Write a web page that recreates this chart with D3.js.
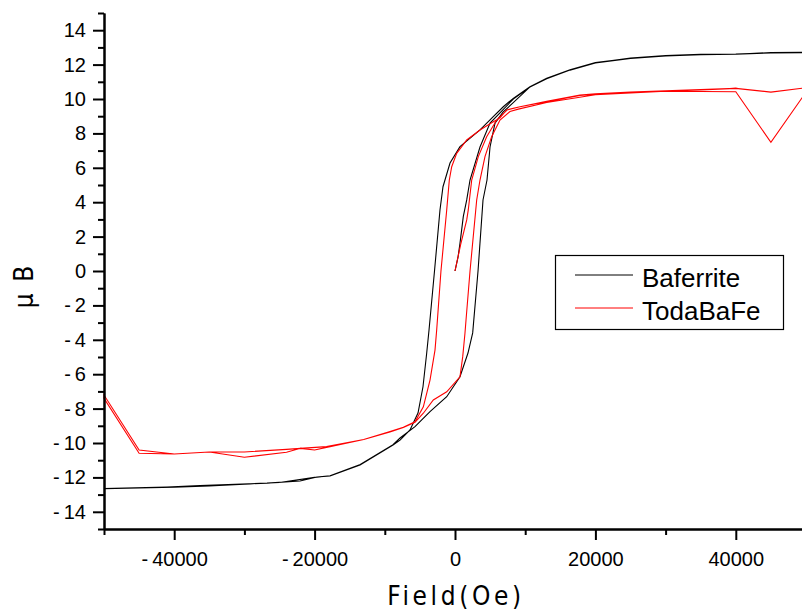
<!DOCTYPE html>
<html><head><meta charset="utf-8">
<script src="https://cdn.jsdelivr.net/npm/d3@7"></script>
<style>
html,body{margin:0;padding:0;background:#fff;}
svg{display:block;}
.narrow{font-family:"Liberation Sans Narrow","DejaVu Sans Condensed","Arial Narrow",sans-serif;font-stretch:condensed;}
</style></head>
<body>
<svg id="chart" width="802" height="616"></svg>
<script>
// ---- data ----
const seriesNames = ["Baferrite", "TodaBaFe"];
const seriesColors = ["#000000", "#ff0000"];

const bafField = [
  0,430,710,1180,1670,2140,3560,4990,6410,8300,10680,13060,16380,20000,25000,30000,35000,40000,45000,50000,
  45000,40000,35000,30000,25000,20000,16380,13060,10680,8300,6880,5450,3560,710,-710,-1710,-2140,-2920,-3700,-4030,-4560,-5270,-6410,-7830,-8830,-13530,-17800,-19660,-22080,-26780,-36320,-41030,-50000,
  -40000,-35000,-30000,-25000,-20000,-17800,-13500,-8830,-7830,-5700,-3560,-1180,710,1850,2520,3280,3990,4560,4990,5700,6840,8260,10680,13060,16380,20000,25000,30000,35000,40000,45000,50000
];
const bafMoment = [
  0,0.8,1.61,3.16,4.13,5.29,7.21,8.6,9.19,10.0,10.7,11.2,11.69,12.11,12.38,12.53,12.6,12.62,12.69,12.72,
  12.7,12.6,12.6,12.52,12.37,12.12,11.7,11.2,10.72,10.04,9.55,8.97,8.2,7.23,6.28,4.9,3.55,0,-3.43,-4.77,-6.73,-8.26,-9.24,-9.83,-10.12,-11.28,-11.92,-11.98,-12.21,-12.33,-12.48,-12.56,-12.65,
  -12.57,-12.5,-12.4,-12.3,-12.0,-11.9,-11.25,-10.1,-9.71,-9.05,-8.18,-7.31,-6.15,-4.77,-3.6,0,4.13,5.29,7.21,8.6,9.24,9.77,10.7,11.18,11.68,12.1,12.36,12.5,12.58,12.6,12.68,12.7
];

const todaField = [
  0,810,1670,1890,2380,3320,4510,5940,7410,9260,13060,17800,20000,25000,30000,35000,40000,45000,50000,
  45000,40000,35000,30000,25000,20000,17800,13060,9260,8300,7360,6410,5460,3560,1670,240,-470,-810,-1180,-2000,-2610,-2850,-3560,-4510,-5700,-7360,-9260,-13000,-17800,-20000,-22000,-24000,-30000,-35000,-40000,-45000,-50000,
  -50000,-45000,-40000,-35000,-30000,-24000,-22000,-18300,-13000,-9260,-7360,-5700,-4510,-3090,-1180,710,1100,1420,1570,2140,3090,3560,4270,5220,6410,7830,9020,13060,20000,30000,40000,45000,50000
];
const todaMoment = [
  0,1.55,2.97,3.55,5.29,6.65,7.81,8.78,9.36,9.55,9.84,10.2,10.28,10.38,10.45,10.52,10.62,10.4,10.65,
  10.4,10.62,10.55,10.47,10.4,10.3,10.23,9.86,9.55,9.46,9.36,8.9,8.68,8.2,7.62,6.84,6.06,5.29,3.55,0,-3.43,-4.6,-6.34,-7.9,-8.77,-9.09,-9.34,-9.8,-10.21,-10.41,-10.31,-10.54,-10.83,-10.52,-10.64,-10.41,-7.21,
  -7.4,-10.6,-10.64,-10.52,-10.52,-10.37,-10.31,-10.21,-9.8,-9.36,-9.1,-8.8,-8.27,-7.5,-7.02,-6.15,-4.98,-3.62,-2.85,0,4.13,5.29,6.65,7.81,8.78,9.27,9.41,9.8,10.25,10.45,10.42,7.48,10.4
];

const xMajorTicks = [-40000,-20000,0,20000,40000];
const xMinorTicks = [-50000,-30000,-10000,10000,30000,50000];
const yMajorTicks = [-14,-12,-10,-8,-6,-4,-2,0,2,4,6,8,10,12,14];
const yMinorTicks = [-15,-13,-11,-9,-7,-5,-3,-1,1,3,5,7,9,11,13,15];
const xTitle = "Field(Oe)";
const yTitle = "\u03bc B";

// ---- chart ----
const svg = d3.select("#chart");
const x = d3.scaleLinear().domain([-50000, 50000]).range([104, 806]);
const y = d3.scaleLinear().domain([-15, 15]).range([529, 13]);

const fmt = d => d < 0 ? "-\u2009" + Math.abs(d) : String(d);

// lines
const line = d3.line().x(d => x(d[0])).y(d => y(d[1]));
const series = [
  d3.zip(bafField, bafMoment),
  d3.zip(todaField, todaMoment)
];
series.forEach((s, i) => {
  svg.append("path").datum(s).attr("d", line)
    .attr("fill", "none").attr("stroke", seriesColors[i])
    .attr("stroke-width", 1.1).attr("stroke-linejoin", "miter");
});

// axes
function styleAxis(g) {
  g.select(".domain").attr("stroke", "#000").attr("stroke-width", 2);
  g.selectAll(".tick line").attr("stroke", "#000").attr("stroke-width", 2);
}
const gxMinor = svg.append("g").attr("transform", "translate(0,529)")
  .call(d3.axisBottom(x).tickValues(xMinorTicks).tickSize(6).tickSizeOuter(0).tickFormat(""));
styleAxis(gxMinor);
const gxMajor = svg.append("g").attr("transform", "translate(0,529)")
  .call(d3.axisBottom(x).tickValues(xMajorTicks).tickSize(11).tickSizeOuter(0).tickPadding(12).tickFormat(fmt));
styleAxis(gxMajor);
gxMajor.selectAll("text").attr("font-family", "Liberation Sans, Arial, sans-serif")
  .attr("font-size", 20).attr("fill", "#000");

const gyMinor = svg.append("g").attr("transform", "translate(104,0)")
  .call(d3.axisLeft(y).tickValues(yMinorTicks).tickSize(6).tickSizeOuter(0).tickFormat(""));
styleAxis(gyMinor);
const gyMajor = svg.append("g").attr("transform", "translate(104,0)")
  .call(d3.axisLeft(y).tickValues(yMajorTicks).tickSize(11).tickSizeOuter(0).tickPadding(7).tickFormat(fmt));
styleAxis(gyMajor);
gyMajor.selectAll("text").attr("font-family", "Liberation Sans, Arial, sans-serif")
  .attr("font-size", 20).attr("fill", "#000");

// titles
svg.append("text").attr("class", "narrow")
  .attr("x", 456).attr("y", 605).attr("text-anchor", "middle")
  .attr("font-size", 26).attr("letter-spacing", "3.6px").attr("fill", "#000")
  .text(xTitle);
svg.append("text").attr("class", "narrow")
  .attr("transform", "translate(33,286) rotate(-90)").attr("text-anchor", "middle")
  .attr("font-size", 26).attr("letter-spacing", "2px").attr("fill", "#000")
  .text(yTitle);

// legend
const lg = svg.append("g");
lg.append("rect").attr("x", 555.5).attr("y", 255.5).attr("width", 228).attr("height", 74)
  .attr("fill", "#fff").attr("stroke", "#000").attr("stroke-width", 1.2);
seriesNames.forEach((n, i) => {
  const yy = 275 + i * 33;
  lg.append("line").attr("x1", 575).attr("x2", 633).attr("y1", yy).attr("y2", yy)
    .attr("stroke", seriesColors[i]).attr("stroke-width", 1);
  lg.append("text").attr("x", 642).attr("y", yy + 12)
    .attr("font-family", "Liberation Sans, Arial, sans-serif").attr("font-size", 26)
    .attr("fill", "#000").text(n);
});
</script>
</body></html>
